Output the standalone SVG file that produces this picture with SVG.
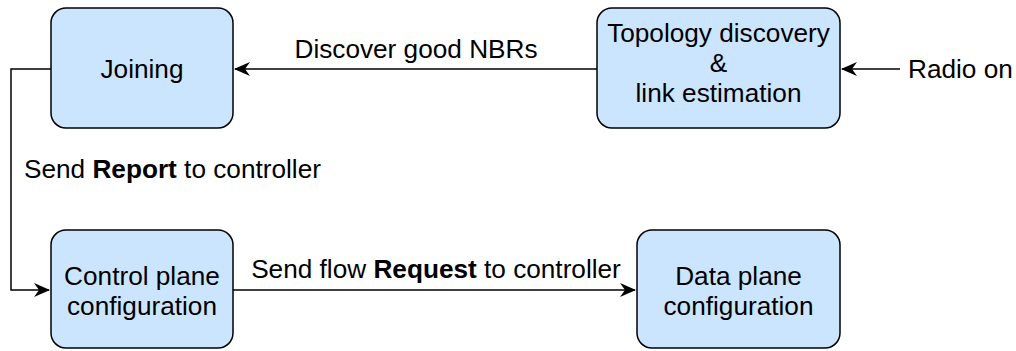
<svg xmlns="http://www.w3.org/2000/svg" width="1016" height="351" viewBox="0 0 1016 351">
<style>
.box{fill:#cce5ff;stroke:#000;stroke-width:1.5}
text{font-family:"Liberation Sans",Arial,sans-serif;font-size:26.2px;fill:#000}
.c{text-anchor:middle}
.edge{fill:none;stroke:#000;stroke-width:1.5}
</style>
<defs>
<marker id="arr" viewBox="0 0 16 14" refX="15" refY="7" markerWidth="16" markerHeight="14" markerUnits="userSpaceOnUse" orient="auto">
<path d="M0,0 L16,7 L0,14 L5,7 Z" fill="#000"/>
</marker>
</defs>
<rect width="1016" height="351" fill="#fff"/>
<g id="connectors">
<path class="edge" d="M597,69 L235,69" marker-end="url(#arr)"/>
<path class="edge" d="M900,69 L842,69" marker-end="url(#arr)"/>
<path class="edge" d="M51,69 L11,69 L11,290 L49,290" marker-end="url(#arr)"/>
<path class="edge" d="M233,290 L635,290" marker-end="url(#arr)"/>
<text x="416" y="58" class="c">Discover good NBRs</text>
<text x="24" y="178">Send <tspan font-weight="bold">Report</tspan> to controller</text>
<text x="436" y="278" class="c">Send flow <tspan font-weight="bold">Request</tspan> to controller</text>
<text x="908" y="78">Radio on</text>
</g>
<g id="joining">
<rect class="box" x="51" y="8" width="182" height="120" rx="15"/>
<text x="142" y="78" class="c">Joining</text>
</g>
<g id="topology">
<rect class="box" x="597" y="8" width="243" height="120" rx="15"/>
<text x="718.5" y="42" class="c">Topology discovery</text>
<text x="718.5" y="72" class="c">&amp;</text>
<text x="718.5" y="102" class="c">link estimation</text>
</g>
<g id="control">
<rect class="box" x="51" y="230" width="182" height="118" rx="15"/>
<text x="142" y="285" class="c">Control plane</text>
<text x="142" y="315" class="c">configuration</text>
</g>
<g id="data">
<rect class="box" x="637" y="230" width="203" height="118" rx="15"/>
<text x="738.5" y="285" class="c">Data plane</text>
<text x="738.5" y="315" class="c">configuration</text>
</g>
</svg>
